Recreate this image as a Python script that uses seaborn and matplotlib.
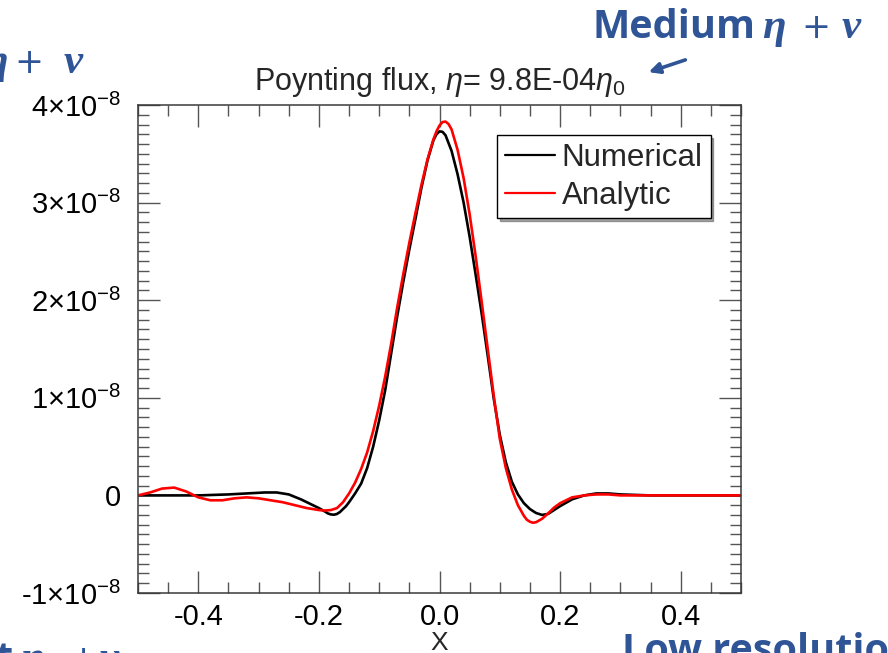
import numpy as np
import pandas as pd
import matplotlib
matplotlib.use("Agg")
import matplotlib.pyplot as plt
import seaborn as sns
from matplotlib.ticker import MultipleLocator, FixedLocator, FixedFormatter

# ---------------- data (y in units of 1e-8) ----------------
x_num = [-0.50, -0.45, -0.40, -0.35, -0.32, -0.29, -0.27, -0.25, -0.23, -0.21,
         -0.20, -0.19, -0.185, -0.18, -0.175, -0.17, -0.165, -0.16, -0.155, -0.15,
         -0.14, -0.13, -0.12, -0.11,
         -0.10, -0.09, -0.08, -0.07, -0.06, -0.05, -0.04, -0.03, -0.02, -0.01,
         -0.005, 0.00, 0.005, 0.01, 0.02, 0.03, 0.04, 0.05, 0.06, 0.07, 0.08, 0.09,
         0.10, 0.11, 0.12, 0.13, 0.14, 0.15, 0.16, 0.17, 0.18, 0.19,
         0.20, 0.22, 0.24, 0.26, 0.28, 0.30, 0.35, 0.40, 0.45, 0.50]
y_num = [0.00, 0.00, 0.00, 0.01, 0.02, 0.03, 0.03, 0.01, -0.04, -0.10,
         -0.13, -0.165, -0.185, -0.195, -0.198, -0.19, -0.17, -0.14, -0.11, -0.07,
         0.02, 0.12, 0.28, 0.50,
         0.77, 1.08, 1.46, 1.84, 2.19, 2.52, 2.83, 3.15, 3.43, 3.64,
         3.70, 3.73, 3.725, 3.69, 3.53, 3.29, 3.00, 2.65, 2.26, 1.86, 1.43, 0.99,
         0.62, 0.34, 0.14, 0.01, -0.08, -0.14, -0.18, -0.20, -0.19, -0.15,
         -0.11, -0.04, 0.00, 0.02, 0.02, 0.01, 0.00, 0.00, 0.00, 0.00]

x_ana = [-0.50, -0.48, -0.46, -0.44, -0.42, -0.40, -0.38, -0.36, -0.34, -0.32,
         -0.30, -0.28, -0.26, -0.24, -0.22, -0.20, -0.19, -0.18, -0.17, -0.16,
         -0.15, -0.14, -0.13, -0.12, -0.11, -0.10, -0.09, -0.08, -0.07, -0.06,
         -0.05, -0.04, -0.03, -0.02, -0.01, -0.005,
         0.00, 0.005, 0.01, 0.015, 0.02, 0.03, 0.04, 0.05, 0.06, 0.07, 0.08, 0.09,
         0.10, 0.11, 0.12, 0.13, 0.14, 0.145, 0.15, 0.155, 0.16, 0.17, 0.18, 0.19, 0.20,
         0.22, 0.24, 0.26, 0.28, 0.30, 0.35, 0.40, 0.45, 0.50]
y_ana = [0.00, 0.03, 0.07, 0.08, 0.04, -0.02, -0.05, -0.05, -0.03, -0.02,
         -0.03, -0.05, -0.07, -0.10, -0.13, -0.15, -0.155, -0.15, -0.13, -0.07,
         0.02, 0.13, 0.27, 0.44, 0.66, 0.92, 1.22, 1.56, 1.93, 2.27,
         2.59, 2.89, 3.18, 3.44, 3.65, 3.73,
         3.79, 3.825, 3.83, 3.805, 3.75, 3.54, 3.25, 2.88, 2.45, 1.98, 1.50, 1.02,
         0.58, 0.28, 0.06, -0.10, -0.21, -0.25, -0.27, -0.28, -0.275, -0.24, -0.185, -0.125, -0.08,
         -0.02, 0.00, 0.01, 0.01, 0.00, 0.00, 0.00, 0.00, 0.00]
SCALE = 1e-8

series_names = ["Numerical", "Analytic"]
series_colors = ["black", "red"]

x_ticks = [-0.4, -0.2, 0.0, 0.2, 0.4]
x_tick_labels = ["-0.4", "-0.2", "0.0", "0.2", "0.4"]
y_ticks = [-1e-8, 0.0, 1e-8, 2e-8, 3e-8, 4e-8]
y_tick_labels = ["-1×10$^{-8}$", "0", "1×10$^{-8}$", "2×10$^{-8}$",
                 "3×10$^{-8}$", "4×10$^{-8}$"]

title_text = r"Poynting flux, $\eta$= 9.8E-04$\eta_0$"
xlabel_text = "X"

# ---------------- style ----------------
sns.set_theme(style="ticks")
plt.rcParams["font.family"] = ["Liberation Sans", "DejaVu Sans"]
plt.rcParams["mathtext.fontset"] = "custom"
plt.rcParams["mathtext.rm"] = "Liberation Sans"
plt.rcParams["mathtext.it"] = "Liberation Sans:italic"
plt.rcParams["mathtext.bf"] = "Liberation Sans:bold"
plt.rcParams["axes.unicode_minus"] = False
plt.rcParams["lines.solid_joinstyle"] = "round"

W, H = 888, 653
fig = plt.figure(figsize=(W / 100, H / 100), dpi=100)
fig.patch.set_facecolor("white")
ax = fig.add_axes([138 / W, 1 - 593 / H, (741 - 138) / W, (593 - 105) / H])

df = pd.concat([
    pd.DataFrame({"x": x_num, "y": np.array(y_num) * SCALE, "series": "Numerical"}),
    pd.DataFrame({"x": x_ana, "y": np.array(y_ana) * SCALE, "series": "Analytic"}),
], ignore_index=True)

sns.lineplot(data=df, x="x", y="y", hue="series", hue_order=series_names,
             palette=dict(zip(series_names, series_colors)), estimator=None,
             sort=False, linewidth=1.9, ax=ax, legend=False)

ax.set_xlim(-0.5, 0.5)
ax.set_ylim(-1e-8, 4e-8)
ax.xaxis.set_major_locator(FixedLocator(x_ticks))
ax.xaxis.set_major_formatter(FixedFormatter(x_tick_labels))
ax.yaxis.set_major_locator(FixedLocator(y_ticks))
ax.yaxis.set_major_formatter(FixedFormatter(y_tick_labels))
ax.xaxis.set_minor_locator(MultipleLocator(0.05))
ax.yaxis.set_minor_locator(MultipleLocator(0.1e-8))

spine_c = "#3a3a3a"
for s in ax.spines.values():
    s.set_color(spine_c)
    s.set_linewidth(1.1)
ax.tick_params(which="both", direction="in", top=True, right=True,
               color="#555555", width=1.0, labelcolor="black")
ax.tick_params(which="major", length=15.8)
ax.tick_params(which="minor", length=7.9)
ax.tick_params(axis="x", which="major", labelsize=21, pad=7)
ax.tick_params(axis="y", which="major", labelsize=21, pad=12)

ax.set_xlabel(xlabel_text, fontsize=19, labelpad=0)
ax.set_ylabel("")
ax.set_title(title_text, fontsize=22, pad=11)

handles = ax.get_lines()[:2]
leg = ax.legend(handles, series_names, loc="upper left",
                bbox_to_anchor=(497 / W, 1 - 135 / H), bbox_transform=fig.transFigure,
                borderaxespad=0, fontsize=22.5, frameon=True, fancybox=False,
                shadow=True, handlelength=1.6, handletextpad=0.22,
                borderpad=0.25, labelspacing=0.25)
leg.get_frame().set_edgecolor("black")
leg.get_frame().set_linewidth(1.0)
for ln in leg.get_lines():
    ln.set_linewidth(1.6)

# ---------------- slide overlay text ----------------
blue = "#2F5597"
def fx(px):
    return px / W
def fy(py):
    return 1 - py / H

sans_bold = dict(family="Open Sans", weight="bold", color=blue, fontsize=28.5)
greek = dict(family="Liberation Serif", weight="bold", style="italic", color=blue, fontsize=31)
plus = dict(family="DejaVu Sans", weight="normal", color=blue, fontsize=25)

# top right "Medium η + ν"
fig.text(fx(592), fy(38), "Medium", ha="left", va="baseline", **sans_bold)
fig.text(fx(762), fy(38), "η", ha="left", va="baseline", **greek)
fig.text(fx(816), fy(38), "+", ha="center", va="baseline", **plus)
fig.text(fx(842), fy(38), "ν", ha="left", va="baseline", **greek)

# top left (cut) "η + ν"
fig.text(fx(8), fy(73), "η", ha="right", va="baseline", **greek)
fig.text(fx(29), fy(73), "+", ha="center", va="baseline", **plus)
fig.text(fx(64), fy(73), "ν", ha="left", va="baseline", **greek)

# bottom left (cut) "t η + ν"
fig.text(fx(12), fy(670), "t", ha="right", va="baseline", **sans_bold)
fig.text(fx(20), fy(670), "η", ha="left", va="baseline", **greek)
fig.text(fx(83), fy(670), "+", ha="center", va="baseline", **plus)
fig.text(fx(100), fy(670), "ν", ha="left", va="baseline", **greek)

# bottom right (cut) "Low resolution"
fig.text(fx(622), fy(662), "Low resolution", ha="left", va="baseline", **sans_bold)

# arrow
fig.add_artist(matplotlib.patches.FancyArrowPatch(
    (fx(688), fy(59)), (fx(646), fy(73)), transform=fig.transFigure,
    arrowstyle="-|>", mutation_scale=16, linewidth=2.6, color=blue))

fig.savefig("out.png", dpi=100, facecolor="white")
